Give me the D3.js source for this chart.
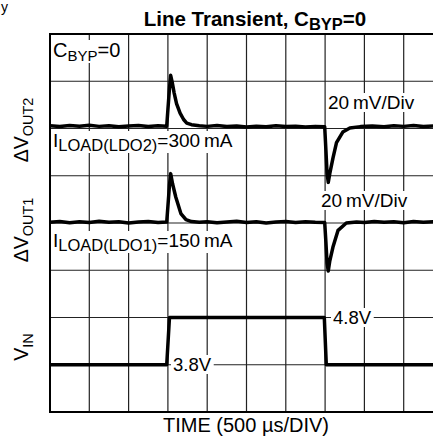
<!DOCTYPE html>
<html>
<head>
<meta charset="utf-8">
<script src="https://d3js.org/d3.v7.min.js"></script>
<style>
	body {
		padding: 0;
		margin: 0;
		background: #fff;
	}
	text {
		font-family: "Liberation Sans", Arial, sans-serif;
		fill: #000;
	}
	.grid line {
		stroke: #222;
		stroke-width: 1.2;
	}
	.trace {
		fill: none;
		stroke: #000;
		stroke-width: 3.5;
		stroke-linejoin: round;
	}
</style>
</head>
<body>
<div id="content"></div>
<script>

// time in divisions (500 us/div), deltas in mV (20 mV/div), VIN in volts (1 V/div)
var tOut2 = [0, 0.25, 0.5, 0.75, 1, 1.25, 1.5, 1.75, 2, 2.25, 2.5, 2.75, 2.97, 3.0, 3.04, 3.07, 3.11, 3.16, 3.22, 3.31, 3.4, 3.48, 3.6, 3.8,
	4.0, 4.25, 4.5, 4.75, 5, 5.25, 5.5, 5.75, 6, 6.25, 6.5, 6.75, 6.99, 7.02, 7.05, 7.08, 7.12, 7.2, 7.29, 7.45, 7.63, 7.9,
	8.2, 8.5, 8.75, 9, 9.25, 9.5, 9.75, 10];
var out2mV = [1.2, 0.8, 1.3, 1.0, 1.4, 0.9, 1.2, 0.7, 1.1, 1.3, 0.8, 1.2, 1.0, 8, 17, 22.5, 19.5, 15, 10.5, 6.5, 3.8, 2.3, 1.6, 1.2,
	0.9, 1.3, 0.8, 1.1, 0.6, 1.0, 0.7, 1.2, 0.8, 1.0, 0.6, 0.9, 0.7, -9, -19, -22.8, -19, -12.5, -6, -1.5, 0.2, 0.8,
	1.1, 0.7, 1.2, 0.9, 1.3, 0.8, 1.1, 0.9];

var tOut1 = [0, 0.25, 0.5, 0.75, 1, 1.25, 1.5, 1.75, 2, 2.25, 2.5, 2.75, 2.97, 3.0, 3.04, 3.07, 3.12, 3.2, 3.33, 3.46, 3.6, 3.8,
	4.0, 4.25, 4.5, 4.75, 5, 5.25, 5.5, 5.75, 6, 6.25, 6.5, 6.75, 6.99, 7.02, 7.05, 7.08, 7.12, 7.2, 7.33, 7.54, 7.8,
	8.0, 8.25, 8.5, 8.75, 9, 9.25, 9.5, 9.75, 10];
var out1mV = [0.3, 0.6, 0.1, 0.5, 0.2, 0.7, 0.3, 0.5, 0.0, 0.4, 0.6, 0.2, 0.4, 7, 16, 20.9, 16.5, 11, 4, 1.4, 0.6, 0.3,
	0.5, 0.1, 0.4, 0.7, 0.2, 0.5, 0.0, 0.4, 0.6, 0.2, 0.5, 0.3, 0.2, -8, -17, -20.3, -16, -10.2, -3.1, 0, 0.4,
	0.2, 0.6, 0.3, 0.5, 0.1, 0.6, 0.3, 0.5, 0.4];

var tVin = [0, 2.97, 3.04, 6.98, 7.03, 10];
var vinV = [3.8, 3.8, 4.8, 4.8, 3.8, 3.8];

var w = 433, h = 440;

var svg = d3.select('#content')
	.append('svg')
	.attr('width', w)
	.attr('height', h);

// scope screen: 10 x 8 divisions, runs off the right edge like the original
var x = d3.scaleLinear().domain([0, 10]).range([50, 443]);
var y = d3.scaleLinear().domain([0, 8]).range([412, 34]);

// channel offsets in divisions
var yOut2 = function(mv) { return y(6 + mv / 20); };
var yOut1 = function(mv) { return y(4 + mv / 20); };
var yVin = function(v) { return y(v - 2.8); };

// grid
var grid = svg.append('g').attr('class', 'grid');
grid.selectAll('.vx')
	.data(x.ticks(10))
	.enter().append('line')
	.attr('x1', d => x(d)).attr('x2', d => x(d))
	.attr('y1', y(0)).attr('y2', y(8));
grid.selectAll('.hy')
	.data(y.ticks(8))
	.enter().append('line')
	.attr('x1', x(0)).attr('x2', x(10))
	.attr('y1', d => y(d)).attr('y2', d => y(d));

svg.append('rect')
	.attr('x', x(0)).attr('y', y(8))
	.attr('width', x(10) - x(0)).attr('height', y(0) - y(8))
	.attr('fill', 'none').attr('stroke', '#000').attr('stroke-width', 2);

// labels sitting on the grid get a white knockout behind them
function label(px, py, parts, size, subSize) {
	var g = svg.append('g');
	var t = g.append('text').attr('x', px).attr('y', py).style('font-size', size + 'px');
	parts.forEach(function(p) {
		var s = t.append('tspan').text(p[0]);
		if (p[1] === 'sub') s.style('font-size', subSize + 'px').attr('dy', 4);
		if (p[1] === 'up') s.attr('dy', -4);
	});
	var b = t.node().getBBox();
	g.insert('rect', 'text')
		.attr('x', b.x - 2).attr('y', b.y + 1)
		.attr('width', b.width + 4).attr('height', b.height - 2)
		.attr('fill', '#fff');
}

label(53, 57, [['C'], ['BYP', 'sub'], ['=0', 'up']], 20, 15);
label(328, 109, [['20\u2009mV/Div']], 19);
label(321, 207, [['20\u2009mV/Div']], 19);
label(53, 147, [['I'], ['LOAD(LDO2)', 'sub'], ['=300\u2009mA', 'up']], 19, 16.5);
label(53, 247, [['I'], ['LOAD(LDO1)', 'sub'], ['=150\u2009mA', 'up']], 19, 16.5);
label(333, 324, [['4.8V']], 18.5);
label(173, 371, [['3.8V']], 18.5);

// traces
var lineOut2 = d3.line().x((d, i) => x(tOut2[i])).y(d => yOut2(d));
var lineOut1 = d3.line().x((d, i) => x(tOut1[i])).y(d => yOut1(d));
var lineVin = d3.line().x((d, i) => x(tVin[i])).y(d => yVin(d));

svg.append('path').attr('class', 'trace').attr('d', lineOut2(out2mV));
svg.append('path').attr('class', 'trace').attr('d', lineOut1(out1mV));
svg.append('path').attr('class', 'trace').attr('d', lineVin(vinV));

// title
var title = svg.append('text')
	.attr('x', 255).attr('y', 26)
	.attr('text-anchor', 'middle')
	.style('font-size', '20.5px')
	.style('font-weight', 'bold');
title.append('tspan').text('Line Transient, C');
title.append('tspan').text('BYP').attr('dy', 4).style('font-size', '16.5px');
title.append('tspan').text('=0').attr('dy', -4);

// rotated channel names
function yLabel(cx, cy, main, sub) {
	var t = svg.append('text')
		.attr('transform', 'translate(' + cx + ',' + cy + ') rotate(-90)')
		.attr('text-anchor', 'middle')
		.style('font-size', '19.5px');
	t.append('tspan').text(main);
	t.append('tspan').text(sub).attr('dy', 5).style('font-size', '14.5px');
}
yLabel(28, 130, '\u0394V', 'OUT2');
yLabel(28, 230, '\u0394V', 'OUT1');
yLabel(28, 347, 'V', 'IN');

// time axis caption
svg.append('text')
	.attr('x', 246).attr('y', 432)
	.attr('text-anchor', 'middle')
	.style('font-size', '20px')
	.text('TIME (500 \u00b5s/DIV)');

// glyph left over at the top-left corner of the original figure
svg.append('text').attr('x', 1).attr('y', 12).style('font-size', '14px').text('y');

</script>
</body>
</html>
